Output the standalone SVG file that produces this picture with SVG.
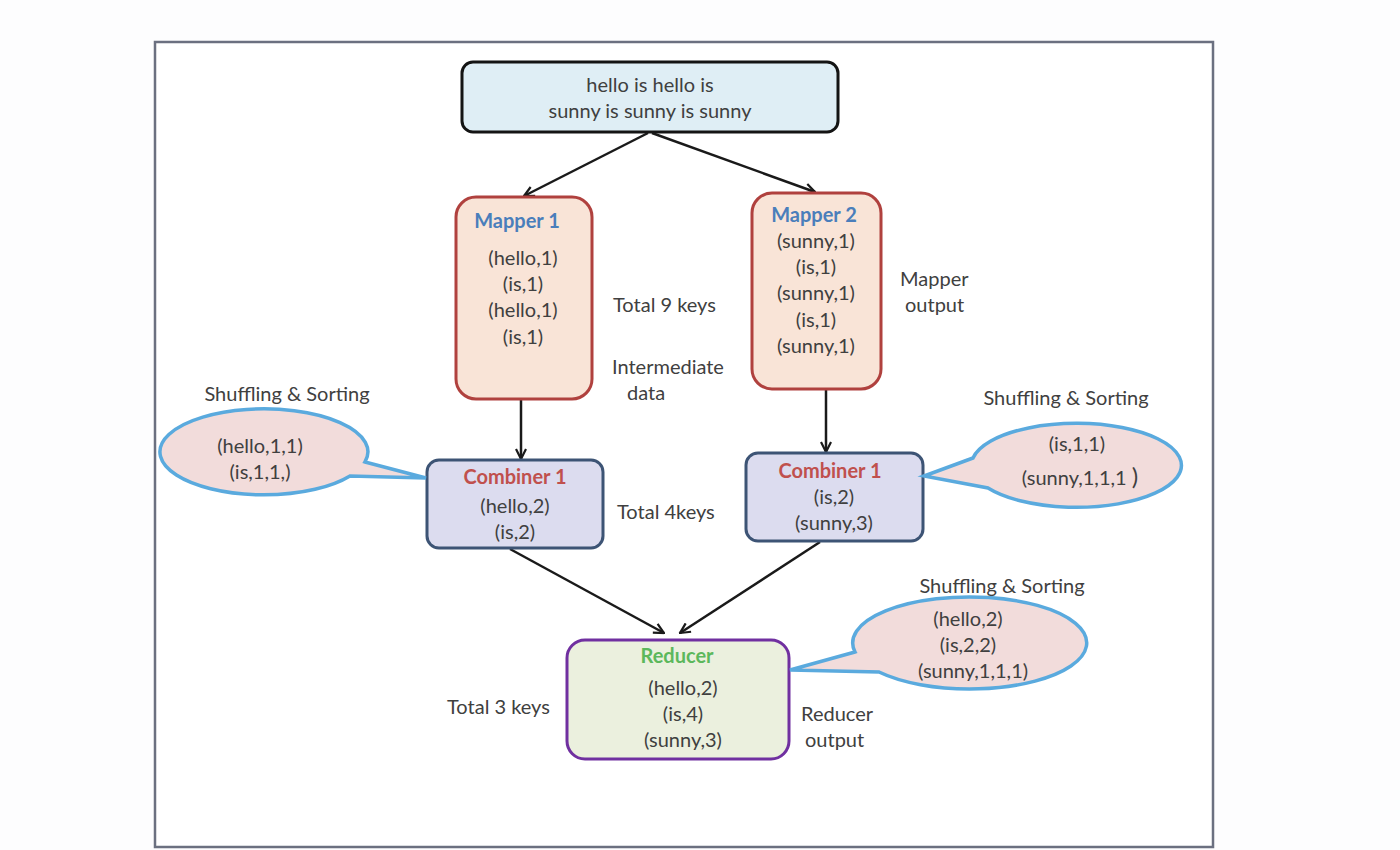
<svg xmlns="http://www.w3.org/2000/svg" width="1400" height="850" viewBox="0 0 1400 850">
<defs>
<style>
text{font-family:Lato,"Open Sans","Liberation Sans",sans-serif;font-size:20px;fill:#404040;text-anchor:middle}
.l{text-anchor:start}
.tb{font-weight:bold}
.conn line{stroke:#1a1a1a;stroke-width:2.5;marker-end:url(#ah)}
.bub{fill:#f2dcdb;stroke:#5aaade;stroke-width:3.5}
</style>
<marker id="ah" viewBox="0 0 12 12" refX="11" refY="6" markerWidth="12" markerHeight="12" markerUnits="userSpaceOnUse" orient="auto">
<path d="M1,1 L11,6 L1,11" fill="none" stroke="#1a1a1a" stroke-width="2.2"/>
</marker>
</defs>
<rect width="1400" height="850" fill="#fdfdfe"/>
<rect x="155" y="42" width="1058" height="805" fill="#ffffff" stroke="#6b7080" stroke-width="2.5"/>

<g class="conn">
<line x1="648" y1="133" x2="524" y2="196"/>
<line x1="652" y1="133" x2="815" y2="192"/>
<line x1="521" y1="400" x2="521" y2="459"/>
<line x1="826" y1="390" x2="826" y2="452"/>
<line x1="510" y1="549" x2="664" y2="633"/>
<line x1="820" y1="542" x2="680" y2="633"/>
</g>

<g id="input">
<rect x="462" y="62" width="376" height="70" rx="11" fill="#dfeef5" stroke="#141414" stroke-width="3"/>
<text x="650" y="92">hello is hello is</text>
<text x="650" y="118">sunny is sunny is sunny</text>
</g>

<g id="mapper1">
<rect x="456" y="197" width="136" height="202" rx="20" fill="#f9e4d7" stroke="#b0413e" stroke-width="3"/>
<text x="517" y="228" class="tb" style="fill:#4a7ebb">Mapper 1</text>
<text x="523" y="265">(hello,1)</text>
<text x="523" y="291">(is,1)</text>
<text x="523" y="317">(hello,1)</text>
<text x="523" y="344">(is,1)</text>
</g>

<g id="mapper2">
<rect x="752" y="193" width="129" height="196" rx="20" fill="#f9e4d7" stroke="#b0413e" stroke-width="3"/>
<text x="814" y="222" class="tb" style="fill:#4a7ebb">Mapper 2</text>
<text x="816" y="248">(sunny,1)</text>
<text x="816" y="274">(is,1)</text>
<text x="816" y="300">(sunny,1)</text>
<text x="816" y="327">(is,1)</text>
<text x="816" y="353">(sunny,1)</text>
</g>

<g id="labels-mid">
<text x="613" y="312" class="l">Total 9 keys</text>
<text x="612" y="374" class="l">Intermediate</text>
<text x="627" y="400" class="l">data</text>
<text x="900" y="286" class="l">Mapper</text>
<text x="905" y="312" class="l">output</text>
<text x="617" y="519" class="l">Total 4keys</text>
<text x="447" y="714" class="l">Total 3 keys</text>
<text x="801" y="721" class="l">Reducer</text>
<text x="805" y="747" class="l">output</text>
</g>

<g id="combiner-left">
<rect x="427" y="460" width="176" height="88" rx="12" fill="#dcdcef" stroke="#3d5475" stroke-width="3"/>
<text x="515" y="484" class="tb" style="fill:#c0504d">Combiner 1</text>
<text x="515" y="513">(hello,2)</text>
<text x="515" y="539">(is,2)</text>
</g>

<g id="combiner-right">
<rect x="746" y="453" width="177" height="88" rx="12" fill="#dcdcef" stroke="#3d5475" stroke-width="3"/>
<text x="830" y="478" class="tb" style="fill:#c0504d">Combiner 1</text>
<text x="834" y="504">(is,2)</text>
<text x="834" y="530">(sunny,3)</text>
</g>

<g id="reducer">
<rect x="567" y="640" width="222" height="119" rx="18" fill="#ebf0de" stroke="#7030a0" stroke-width="3"/>
<text x="677" y="663" class="tb" style="fill:#5cb85c">Reducer</text>
<text x="683" y="695">(hello,2)</text>
<text x="683" y="721">(is,4)</text>
<text x="683" y="747">(sunny,3)</text>
</g>

<g id="shuffle-left">
<path class="bub" d="M365,462 L426,478 L350,476 A104,43 0 1 1 365,462 Z"/>
<text x="287" y="401">Shuffling &amp; Sorting</text>
<text x="260" y="453">(hello,1,1)</text>
<text x="260" y="479">(is,1,1,)</text>
</g>

<g id="shuffle-right">
<path class="bub" d="M973,458 L924,476 L988,488 A105,42 0 1 0 973,458 Z"/>
<text x="1066" y="405">Shuffling &amp; Sorting</text>
<text x="1077" y="451">(is,1,1)</text>
<text x="1080" y="485">(sunny,1,1,1 <tspan style="font-size:24px">)</tspan></text>
</g>

<g id="shuffle-reducer">
<path class="bub" d="M855,652 L790,670 L879,672 A117,46 0 1 0 855,652 Z"/>
<text x="1002" y="593">Shuffling &amp; Sorting</text>
<text x="968" y="626">(hello,2)</text>
<text x="968" y="652">(is,2,2)</text>
<text x="973" y="678">(sunny,1,1,1)</text>
</g>
</svg>
